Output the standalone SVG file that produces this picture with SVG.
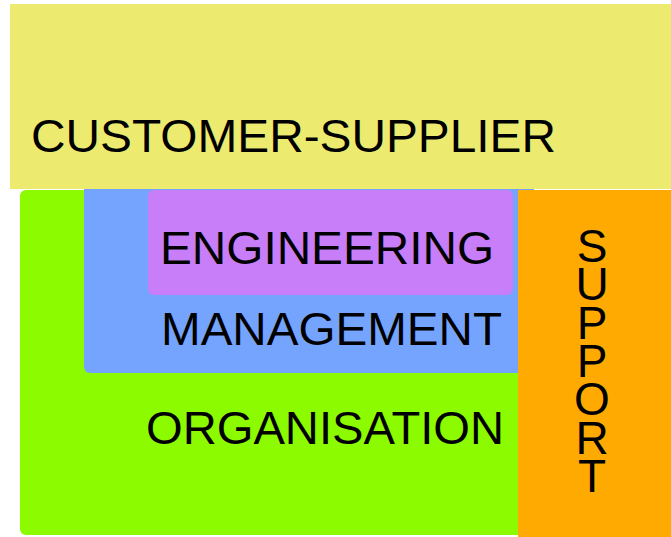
<svg xmlns="http://www.w3.org/2000/svg" width="671" height="537" viewBox="0 0 671 537">
<style>
.t{font-family:"Liberation Sans",Arial,sans-serif;font-size:46px;fill:#000}
</style>
<rect width="671" height="537" fill="#ffffff"/>
<g id="organisation">
<rect x="20" y="190" width="520" height="345" rx="6" fill="#8cfb00"/>
<text class="t" x="146" y="444" textLength="358" lengthAdjust="spacingAndGlyphs">ORGANISATION</text>
</g>
<g id="management">
<rect x="84" y="180" width="450" height="193" rx="6" fill="#75a4ff"/>
<text class="t" x="161" y="345" textLength="341" lengthAdjust="spacingAndGlyphs">MANAGEMENT</text>
</g>
<g id="engineering">
<rect x="148" y="190" width="365" height="105" rx="6" fill="#c77ef8"/>
<text class="t" x="160" y="264" textLength="334" lengthAdjust="spacingAndGlyphs">ENGINEERING</text>
</g>
<g id="support">
<rect x="518" y="190" width="153" height="347" fill="#ffaa00"/>
<text class="t" x="592" y="262" text-anchor="middle" font-size="43"><tspan x="592">S</tspan><tspan x="592" dy="38.3">U</tspan><tspan x="592" dy="38.3">P</tspan><tspan x="592" dy="38.3">P</tspan><tspan x="592" dy="38.3">O</tspan><tspan x="592" dy="38.3">R</tspan><tspan x="592" dy="38.3">T</tspan></text>
</g>
<g id="customer-supplier">
<rect x="10" y="4" width="661" height="185" fill="#eceb70"/>
<text class="t" x="31" y="152" textLength="525" lengthAdjust="spacingAndGlyphs">CUSTOMER-SUPPLIER</text>
</g>
<g id="connectors"/>
</svg>
